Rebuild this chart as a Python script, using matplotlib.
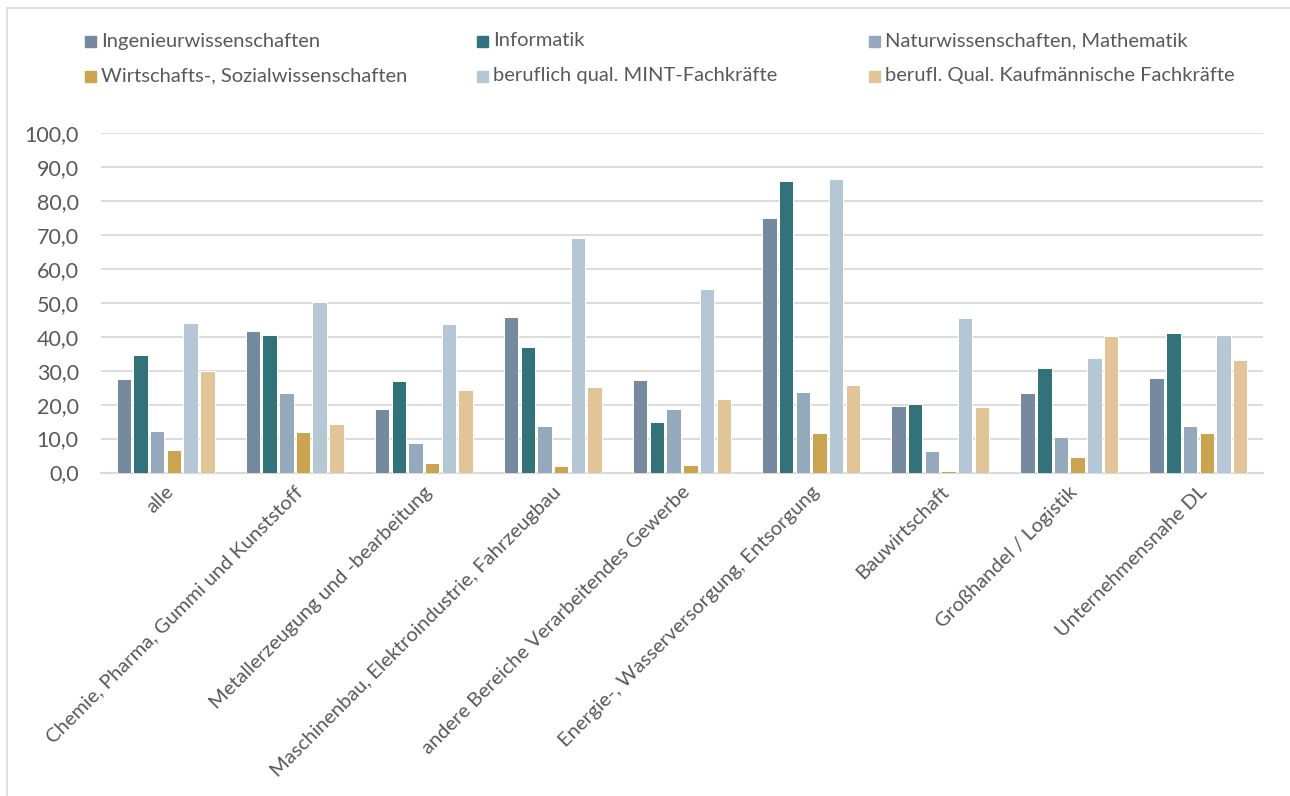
import matplotlib
matplotlib.use("Agg")
import matplotlib.pyplot as plt
import matplotlib.transforms as mtransforms
from matplotlib.patches import Rectangle
from matplotlib.lines import Line2D
import numpy as np

plt.rcParams['font.family'] = ['Lato', 'DejaVu Sans']

# Branchen (x-Achse)
branchen = ['alle',
            'Chemie, Pharma, Gummi und Kunststoff',
            'Metallerzeugung und -bearbeitung',
            'Maschinenbau, Elektroindustrie, Fahrzeugbau',
            'andere Bereiche Verarbeitendes Gewerbe',
            'Energie-, Wasserversorgung, Entsorgung',
            'Bauwirtschaft',
            'Großhandel / Logistik',
            'Unternehmensnahe DL']

# Anteile in Prozent je Qualifikation
ingenieur = [27.5, 41.8, 18.6, 45.9, 27.4, 75.1, 19.6, 23.3, 27.8]
informatik = [34.5, 40.5, 27.1, 37.0, 15.0, 85.9, 20.1, 30.7, 41.0]
natwiss = [12.1, 23.3, 8.7, 13.6, 18.7, 23.6, 6.2, 10.6, 13.8]
wiwi = [6.7, 11.8, 2.9, 2.0, 2.2, 11.5, 0.3, 4.5, 11.5]
mint_fk = [44.0, 50.4, 43.8, 69.0, 54.1, 86.5, 45.6, 33.7, 40.6]
kauf_fk = [29.9, 14.4, 24.3, 25.3, 21.6, 25.8, 19.3, 40.2, 33.1]

reihen = ['Ingenieurwissenschaften', 'Informatik', 'Naturwissenschaften, Mathematik',
          'Wirtschafts-, Sozialwissenschaften', 'beruflich qual. MINT-Fachkräfte',
          'berufl. Qual. Kaufmännische Fachkräfte']
werte = [ingenieur, informatik, natwiss, wiwi, mint_fk, kauf_fk]
farben = ['#758A9E', '#32737B', '#95A9BC', '#CBA44F', '#B5C7D5', '#E1C597']

textfarbe = '#595959'
gitter = '#D9D9D9'

fig = plt.figure(figsize=(12.9, 7.96), dpi=100)
W, H = 1290, 796

ax = fig.add_axes([101 / W, 1 - 472.5 / H, 1162 / W, 339.2 / H])

x = np.arange(len(branchen))
slot = 0.1293
for i, (name, vals, col) in enumerate(zip(reihen, werte, farben)):
    ax.bar(x + (i - 2.5) * slot, vals, width=0.112, color=col,
           edgecolor='white', linewidth=0.7, label=name, zorder=3)

ax.set_xlim(-0.5, len(branchen) - 0.5)
ax.set_ylim(0, 100)
ax.set_yticks(np.arange(0, 101, 10))
ax.set_yticklabels([f'{v:.1f}'.replace('.', ',') for v in np.arange(0, 101, 10)])
ax.yaxis.grid(True, color=gitter, linewidth=1.3, zorder=0)
ax.set_axisbelow(True)
for s in ['top', 'right', 'left']:
    ax.spines[s].set_visible(False)
ax.spines['bottom'].set_color(gitter)
ax.spines['bottom'].set_linewidth(1.5)
ax.tick_params(axis='y', length=0, pad=16, labelsize=15.5, labelcolor=textfarbe)
ax.tick_params(axis='x', length=0, pad=12, labelsize=14.5, labelcolor=textfarbe)

ax.set_xticks(x)
ax.set_xticklabels(branchen, rotation=45, ha='right', va='center',
                   rotation_mode='anchor')
shift = mtransforms.ScaledTranslation(4 / 72, 0, fig.dpi_scale_trans)
for lab in ax.get_xticklabels():
    lab.set_transform(lab.get_transform() + shift)

# Legende: drei Spalten, zwei Zeilen
reihenfolge = [[0, 1, 2], [3, 4, 5]]
spalten_x = [85, 477, 869]
zeilen_y = [41, 76]
for r, zeile in enumerate(reihenfolge):
    for c, idx in enumerate(zeile):
        px, py = spalten_x[c], zeilen_y[r]
        fig.patches.append(Rectangle((px / W, 1 - (py + 5.5) / H), 11 / W, 11 / H,
                                     transform=fig.transFigure,
                                     color=farben[idx]))
        fig.text((px + 16) / W, 1 - py / H, reihen[idx], fontsize=14.5,
                 color=textfarbe, va='center', ha='left')

# Rahmen oben und links
fig.add_artist(Line2D([7 / W, 1], [1 - 8 / H, 1 - 8 / H], color=gitter,
                      linewidth=1.2, transform=fig.transFigure))
fig.add_artist(Line2D([7 / W, 7 / W], [0, 1 - 8 / H], color=gitter,
                      linewidth=1.2, transform=fig.transFigure))

fig.savefig('out.png', dpi=100)
